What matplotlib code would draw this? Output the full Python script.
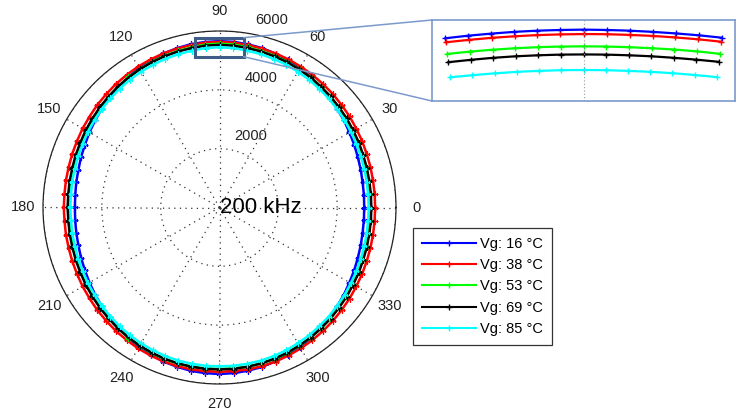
import numpy as np
import matplotlib.pyplot as plt
from matplotlib.patches import Rectangle, ConnectionPatch
from matplotlib.transforms import offset_copy

plt.rcParams['font.family'] = ['Liberation Sans', 'DejaVu Sans']

# angulos (grados) cada 5 grados
theta_deg = np.arange(0, 360, 5)

r_16 = [4920, 4928, 4940, 4971, 5004, 5053, 5101, 5165, 5221,
        5290, 5348, 5416, 5468, 5527, 5566, 5609, 5630, 5651,
        5655, 5647, 5635, 5603, 5572, 5521, 5474, 5410, 5354,
        5285, 5227, 5159, 5107, 5048, 5009, 4966, 4945, 4923,
        4918, 4925, 4944, 4967, 5008, 5049, 5106, 5160, 5227,
        5285, 5354, 5410, 5474, 5521, 5572, 5603, 5636, 5652,
        5660, 5651, 5631, 5608, 5566, 5527, 5468, 5416, 5348,
        5291, 5221, 5165, 5101, 5053, 5004, 4971, 4940, 4927]
r_38 = [5290, 5295, 5298, 5313, 5325, 5349, 5368, 5397, 5420,
        5452, 5476, 5507, 5528, 5555, 5571, 5592, 5606, 5622,
        5632, 5624, 5604, 5590, 5575, 5551, 5532, 5503, 5480,
        5448, 5424, 5393, 5372, 5345, 5329, 5309, 5302, 5290,
        5295, 5288, 5301, 5309, 5328, 5344, 5371, 5392, 5424,
        5447, 5480, 5502, 5531, 5550, 5570, 5580, 5588, 5583,
        5586, 5580, 5590, 5584, 5572, 5552, 5529, 5506, 5477,
        5451, 5421, 5396, 5369, 5348, 5326, 5312, 5299, 5293]
r_53 = [5130, 5134, 5141, 5158, 5176, 5202, 5229, 5263, 5294,
        5331, 5364, 5399, 5431, 5460, 5485, 5507, 5530, 5558,
        5570, 5560, 5528, 5505, 5482, 5461, 5429, 5400, 5363,
        5332, 5293, 5264, 5228, 5203, 5175, 5159, 5140, 5135,
        5128, 5135, 5142, 5156, 5178, 5200, 5231, 5261, 5296,
        5329, 5366, 5397, 5432, 5457, 5478, 5490, 5494, 5496,
        5495, 5493, 5495, 5488, 5479, 5458, 5430, 5398, 5366,
        5330, 5295, 5262, 5230, 5201, 5177, 5157, 5142, 5133]
r_69 = [5160, 5165, 5170, 5185, 5200, 5225, 5246, 5277, 5303,
        5337, 5363, 5397, 5421, 5449, 5467, 5489, 5502, 5522,
        5528, 5524, 5500, 5488, 5470, 5446, 5424, 5393, 5367,
        5333, 5307, 5273, 5250, 5221, 5203, 5181, 5173, 5161,
        5165, 5158, 5172, 5182, 5202, 5221, 5250, 5273, 5307,
        5333, 5367, 5393, 5425, 5445, 5470, 5486, 5497, 5502,
        5500, 5503, 5497, 5488, 5468, 5449, 5420, 5398, 5362,
        5338, 5302, 5278, 5245, 5226, 5199, 5186, 5169, 5166]
r_85 = [5070, 5075, 5080, 5095, 5110, 5135, 5156, 5187, 5213,
        5247, 5273, 5307, 5331, 5359, 5377, 5399, 5415, 5440,
        5447, 5442, 5413, 5398, 5380, 5356, 5334, 5303, 5277,
        5243, 5217, 5183, 5160, 5131, 5113, 5091, 5083, 5071,
        5075, 5068, 5082, 5092, 5112, 5131, 5160, 5183, 5217,
        5243, 5277, 5303, 5335, 5355, 5377, 5392, 5398, 5401,
        5400, 5403, 5396, 5392, 5378, 5359, 5330, 5308, 5272,
        5248, 5212, 5188, 5155, 5136, 5109, 5096, 5079, 5076]

# detalle del zoom (84 a 96 grados)
zoom_deg = np.arange(84, 97, 1)
z_16 = [5646, 5649, 5651, 5653, 5655, 5656, 5657, 5656, 5655, 5653, 5650, 5647, 5643]
z_38 = [5625, 5628, 5630, 5632, 5633, 5634, 5634, 5633, 5632, 5630, 5628, 5625, 5622]
z_53 = [5562, 5565, 5567, 5568, 5569, 5570, 5570, 5570, 5569, 5568, 5566, 5564, 5561]
z_69 = [5520, 5522, 5524, 5526, 5527, 5528, 5528, 5528, 5527, 5526, 5524, 5521, 5518]
z_85 = [5440, 5442, 5444, 5445, 5446, 5447, 5447, 5447, 5446, 5445, 5443, 5441, 5439]

etiquetas = ['Vg: 16 °C', 'Vg: 38 °C', 'Vg: 53 °C', 'Vg: 69 °C', 'Vg: 85 °C']
colores = ['#0000ff', '#ff0000', '#00ff00', '#000000', '#00ffff']
series = [r_16, r_38, r_53, r_69, r_85]
series_zoom = [z_16, z_38, z_53, z_69, z_85]
angulos = list(range(0, 360, 30))

fig = plt.figure(figsize=(7.39, 4.16), dpi=100)
ax = fig.add_axes([43/739, 32/416, 353/739, 353/416], projection='polar')

th = np.radians(np.append(theta_deg, theta_deg[0]))
lineas = []
for r, c, lab in zip(series, colores, etiquetas):
    rr = np.append(r, r[0])
    l, = ax.plot(th, rr, color=c, lw=1.8, marker='+', ms=4, mew=1, label=lab)
    lineas.append(l)

ax.set_ylim(0, 6000)
ax.set_thetagrids(angulos, labels=[str(a) for a in angulos], fontsize=10.5, color='#222222')
ax.tick_params(axis='x', pad=4)
ax.set_rgrids([2000, 4000, 6000], labels=['', '', ''])
ax.grid(True, color='#333333', lw=0.9, linestyle=(0, (1, 3.5)))
ax.spines['polar'].set_linewidth(0.9)
ax.spines['polar'].set_color('#222222')

# etiquetas radiales
tr_lab = offset_copy(ax.transData, fig, x=5, y=7, units='dots')
for rv in [2000, 4000, 6000]:
    ax.text(np.radians(80), rv, str(rv), transform=tr_lab, ha='left', va='bottom',
            fontsize=10.5, color='#222222')

ax.text(0, 0, '200 kHz', ha='left', va='center', fontsize=16, color='black')

# rectangulo de zoom en coordenadas cartesianas
cart = ax.transProjectionAffine + ax.transWedge + ax.transAxes
x0, y0, w, h = -820, 5127, 1640, 646
ax.add_patch(Rectangle((x0, y0), w, h, transform=cart, fill=False,
                       edgecolor='#3e5c87', lw=2.2, zorder=5))

# inset
axins = fig.add_axes([432/739, 315/416, 303/739, 81/416])
tz = np.radians(zoom_deg)
for r, c in zip(series_zoom, colores):
    r = np.array(r)
    axins.plot(r * np.cos(tz), r * np.sin(tz), color=c, lw=1.6, marker='+', ms=4, mew=1)
axins.axvline(0, color='#999999', lw=0.8, linestyle=(0, (1, 2)))
axins.set_xlim(-647, 647)
axins.set_ylim(5286, 5707)
axins.set_xticks([])
axins.set_yticks([])
for s in axins.spines.values():
    s.set_color('#7b9acb')
    s.set_linewidth(1.2)

for (xa, ya), (xb, yb) in [((x0 + w, y0 + h), (0, 1)), ((x0 + w, y0), (0, 0))]:
    con = ConnectionPatch(xyA=(xa, ya), coordsA=cart, xyB=(xb, yb), coordsB=axins.transAxes,
                          color='#7b9acb', lw=1.1)
    fig.add_artist(con)

leg = fig.legend(handles=lineas, loc='upper left', bbox_to_anchor=(413/739, 1 - 228/416),
                 fontsize=10.5, frameon=True, fancybox=False, edgecolor='black',
                 handlelength=3.7, handletextpad=0.3, borderpad=0.6, labelspacing=0.5,
                 borderaxespad=0)
leg.get_frame().set_linewidth(0.9)
for lh in leg.get_lines():
    lh.set_linewidth(1.5)

plt.savefig('out.png', dpi=100)
